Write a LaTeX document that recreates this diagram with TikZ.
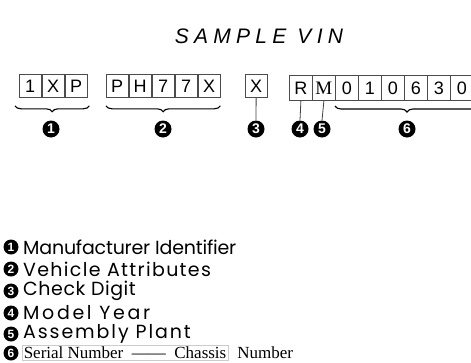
\documentclass[tikz,border=0pt]{standalone}
\usepackage{fontspec}
\setmainfont{Liberation Serif}
\setsansfont{Liberation Sans}
\newfontfamily\legendfont{Poppins}
\newfontfamily\titlefont{Liberation Sans}[LetterSpace=25]
\usetikzlibrary{decorations.pathreplacing}
\tikzset{
  cbox/.style={draw=black!70, line width=0.8pt, minimum width=21.5pt, minimum height=23pt,
    inner sep=0pt, anchor=north west, font=\sffamily\fontsize{18}{18}\selectfont},
  cell/.style={cbox, minimum width=23pt, minimum height=25pt},
  num/.style={circle, fill=black, text=white, inner sep=0pt, minimum size=17pt,
    font=\sffamily\bfseries\fontsize{14}{14}\selectfont},
  lnum/.style={num, minimum size=15pt, font=\sffamily\bfseries\fontsize{12}{12}\selectfont},
  legend/.style={anchor=west, inner sep=0pt, font=\legendfont\fontsize{19}{19}\selectfont},
  brc/.style={decorate, decoration={brace, amplitude=6pt}, line width=1.1pt},
  lead/.style={draw=black!75, line width=0.8pt}
}
\begin{document}
\begin{tikzpicture}[x=1pt,y=-1pt]
\useasboundingbox (0,0) rectangle (471,362);
\begin{scope}
\clip (0,0) rectangle (471,362);
% title
\node (title) at (259,36) {\titlefont\itshape\fontsize{21}{21}\selectfont SAMPLE VIN};
% group 1
\node[cbox] (a1) at (19,74) {1};
\node[cbox] (a2) at (42,74) {X};
\node[cbox] (a3) at (65,74) {P};
% group 2
\node[cbox] (b1) at (106,74) {P};
\node[cbox] (b2) at (129,74) {H};
\node[cbox] (b3) at (152,74) {7};
\node[cbox] (b4) at (175,74) {7};
\node[cbox] (b5) at (198,74) {X};
% check digit
\node[cbox] (cx) at (245,74) {X};
% serial row
\node[cell] (c0) at (289,75) {R};
\node[cell, font=\rmfamily\fontsize{19}{19}\selectfont] (c1) at (312,75) {M};
\node[cell] (c2) at (335,75) {0};
\node[cell] (c3) at (358,75) {1};
\node[cell] (c4) at (381,75) {0};
\node[cell] (c5) at (404,75) {6};
\node[cell] (c6) at (427,75) {3};
\node[cell] (c7) at (450,75) {0};
% numbers
\node[num] (n1) at (51,129) {1};
\node[num] (n2) at (163,129) {2};
\node[num] (n3) at (256,129) {3};
\node[num] (n4) at (300,129) {4};
\node[num] (n5) at (322,129) {5};
\node[num] (n6) at (407,129) {6};
% braces
\draw[brc] ([xshift=2pt,yshift=-8pt]a3.south east) -- ([xshift=-4pt,yshift=-8pt]a1.south west);
\draw[brc] ([yshift=-8pt]b5.south east) -- ([yshift=-8pt]b1.south west);
\coordinate (s6r) at (479,106);
\coordinate (s6l) at (335,106);
\draw[brc] (s6r) -- (s6l);
% leads
\draw[lead] (cx.south) -- (n3.north);
\draw[lead] (c0.south) -- (n4.north);
\draw[lead] (c1.south) -- (n5.north);
% legend
\node[lnum] (k1) at (11,247) {1};
\node[lnum] (k2) at (11,269) {2};
\node[lnum] (k3) at (11,291) {3};
\node[lnum] (k4) at (11,313) {4};
\node[lnum] (k5) at (11,334) {5};
\node[lnum] (k6) at (11,353) {6};
\node[legend] (t1) at (23,247) {\addfontfeature{LetterSpace=-1}Manufacturer Identifier};
\node[legend] (t2) at (23,269) {\addfontfeature{LetterSpace=7}Vehicle Attributes};
\node[legend] (t3) at (23,291) {\addfontfeature{LetterSpace=3}Check Digit};
\node[legend] (t4) at (23,313) {\addfontfeature{LetterSpace=14}Model Year};
\node[legend] (t5) at (23,334) {\addfontfeature{LetterSpace=10}Assembly Plant};
\node[anchor=west, draw=black!20, line width=0.5pt, inner sep=1.5pt, font=\rmfamily\fontsize{17}{17}\selectfont]
  (t6) at (22,353) {Serial Number\enspace——\enspace Chassis};
\node[anchor=west, inner sep=0pt, font=\rmfamily\fontsize{17}{17}\selectfont]
  (t6b) at ([xshift=9pt]t6.east) {Number};
\end{scope}
\end{tikzpicture}
\end{document}
